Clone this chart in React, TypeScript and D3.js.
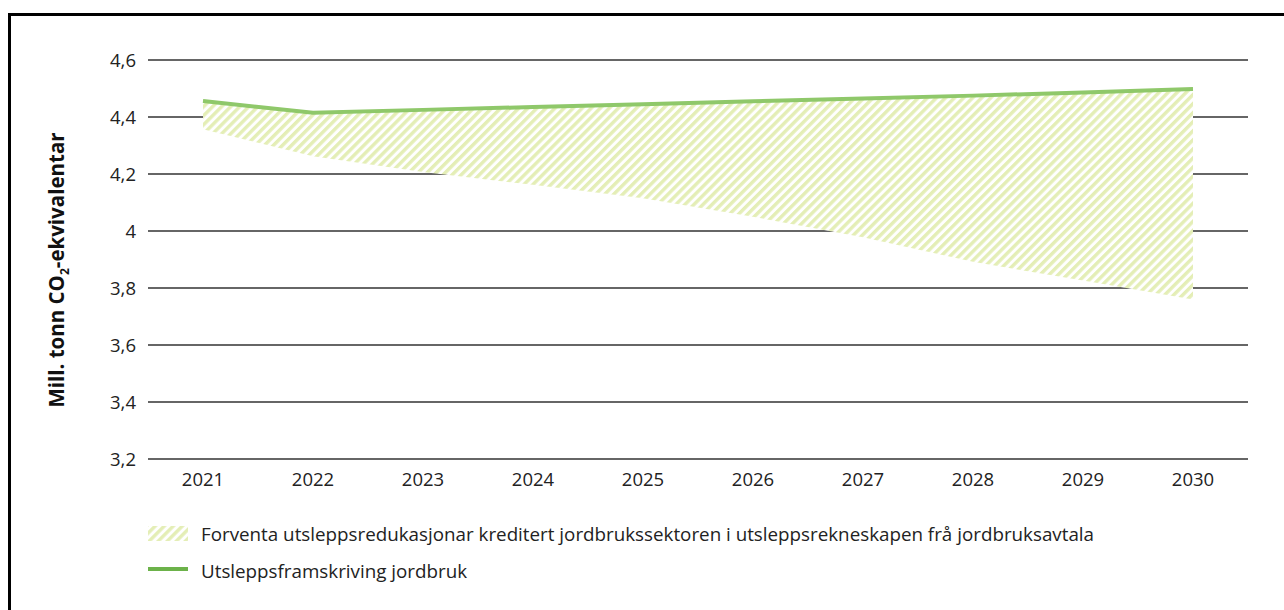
import React from "react";
import * as d3 from "d3";

const years = ["2021", "2022", "2023", "2024", "2025", "2026", "2027", "2028", "2029", "2030"];
const projection = [4.456, 4.415, 4.425, 4.435, 4.445, 4.455, 4.465, 4.475, 4.486, 4.498];
const lowerBound = [4.357, 4.262, 4.207, 4.162, 4.115, 4.05, 3.978, 3.892, 3.826, 3.76];
const yTicks = [3.2, 3.4, 3.6, 3.8, 4.0, 4.2, 4.4, 4.6];
const legendArea = "Forventa utsleppsredukasjonar kreditert jordbrukssektoren i utsleppsrekneskapen frå jordbruksavtala";
const legendLine = "Utsleppsframskriving jordbruk";

const W = 1284;
const H = 610;
const font = "'Open Sans', 'Noto Sans', sans-serif";

export default function App() {
  const x = d3.scaleBand<string>().domain(years).range([148, 1248]);
  const y = d3.scaleLinear().domain([3.2, 4.6]).range([459, 60]);
  const cx = (d: string) => (x(d) as number) + x.bandwidth() / 2;

  const area = d3
    .area<number>()
    .x((_, i) => cx(years[i]))
    .y0((_, i) => y(lowerBound[i]))
    .y1((d) => y(d));
  const line = d3
    .line<number>()
    .x((_, i) => cx(years[i]))
    .y((d) => y(d));
  const fmt = (v: number) => (Math.round(v * 10) / 10).toString().replace(".", ",");

  return (
    <svg width={W} height={H} style={{ position: "absolute", left: 0, top: 0 }}>
      <defs>
        <pattern id="hatch" patternUnits="userSpaceOnUse" width={6.4} height={6.4} patternTransform="rotate(45)">
          <rect x={0} y={0} width={6.4} height={6.4} fill="#ffffff" />
          <rect x={0} y={0} width={3.4} height={6.4} fill="#e4eeb6" />
        </pattern>
      </defs>
      <rect x={0} y={0} width={W} height={H} fill="#fff" />
      <rect x={9.5} y={14.5} width={1290} height={620} fill="none" stroke="#000" strokeWidth={3} />
      {yTicks.map((t) => (
        <g key={t}>
          <line x1={148} x2={1248} y1={y(t)} y2={y(t)} stroke="#333" strokeWidth={1.3} />
          <text x={136} y={y(t)} dy="0.36em" textAnchor="end" fontFamily={font} fontSize={18.5} fill="#222">
            {fmt(t)}
          </text>
        </g>
      ))}
      <path d={area(projection) || ""} fill="url(#hatch)" />
      <path d={line(projection) || ""} fill="none" stroke="#8fc86a" strokeWidth={4} />
      {years.map((yr) => (
        <text key={yr} x={cx(yr)} y={486} textAnchor="middle" fontFamily={font} fontSize={18.5} fill="#222">
          {yr}
        </text>
      ))}
      <text
        transform={`translate(64,270) rotate(-90)`}
        textAnchor="middle"
        fontFamily={font}
        fontSize={20.5}
        fontWeight="bold"
        fill="#111"
      >
        Mill. tonn CO<tspan fontSize={12} dy={5}>2</tspan>
        <tspan dy={-5}>-ekvivalentar</tspan>
      </text>
      <rect x={148} y={526} width={40} height={15} fill="url(#hatch)" />
      <text x={201} y={541} fontFamily={font} fontSize={18.8} fill="#222">
        {legendArea}
      </text>
      <line x1={148} x2={188} y1={569} y2={569} stroke="#6cb24a" strokeWidth={4} />
      <text x={201} y={578} fontFamily={font} fontSize={18.8} fill="#222">
        {legendLine}
      </text>
    </svg>
  );
}
